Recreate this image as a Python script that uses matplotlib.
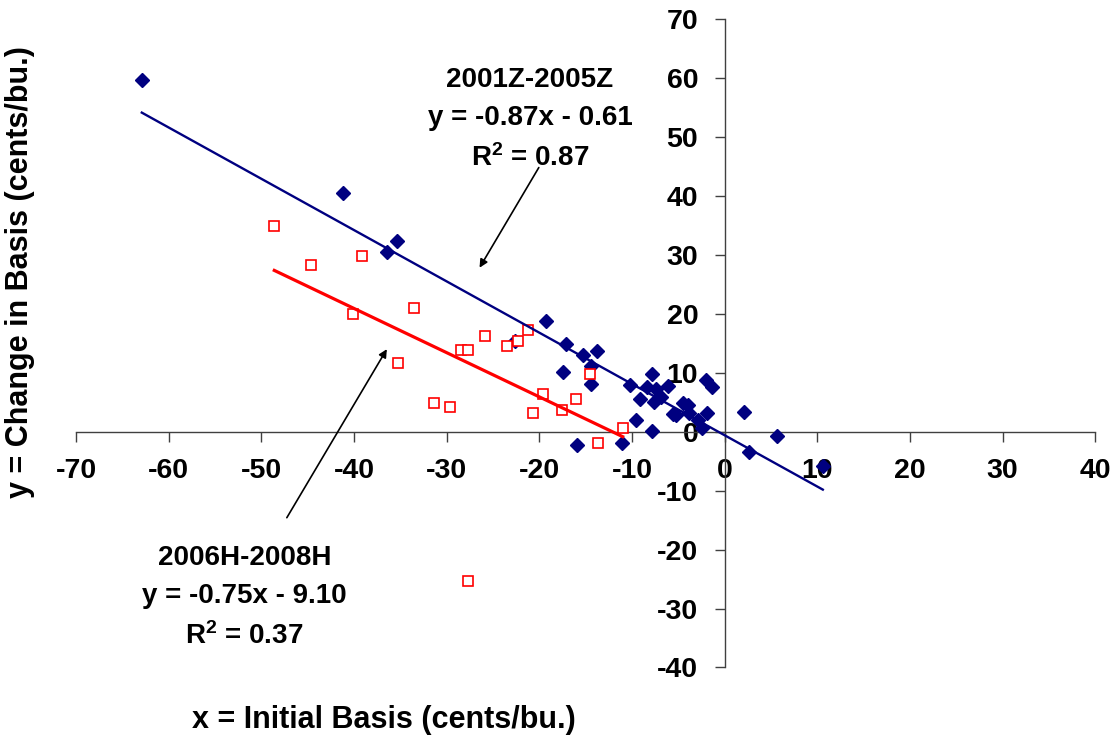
import matplotlib
matplotlib.use("Agg")
import matplotlib.pyplot as plt
import numpy as np

# ============================================================
# DATA
# ============================================================

x_0105 = [-62.9, -41.2, -35.4, -36.4, -22.6, -19.3, -17.1, -17.4, -15.3, -13.8,
          -14.4, -14.4, -15.9, -11.1, -10.2, -9.6, -9.1, -7.8, -8.4, -7.4,
          -7.6, -6.9, -7.8, -6.1, -5.6, -5.2, -4.5, -3.9, -3.8, -2.9,
          -2.4, -2.0, -1.4, -1.9, 2.1, 5.7, 2.6, 10.6]
y_0105 = [59.7, 40.4, 32.4, 30.5, 15.4, 18.7, 14.8, 10.1, 13.0, 13.7,
          11.1, 8.1, -2.3, -2.0, 7.9, 2.0, 5.5, 9.8, 7.5, 7.2,
          5.1, 5.9, 0.1, 7.8, 3.0, 2.8, 4.8, 4.5, 3.2, 2.0,
          0.6, 8.7, 7.5, 3.1, 3.3, -0.8, -3.4, -5.8]

x_0608 = [-48.6, -44.6, -39.1, -40.1, -33.5, -35.2, -31.4, -29.6, -28.4, -27.7,
          -27.7, -25.9, -23.5, -22.3, -21.2, -20.7, -19.6, -17.5, -16.0, -14.5,
          -13.7, -11.0]
y_0608 = [34.9, 28.3, 29.8, 19.9, 20.9, 11.7, 4.9, 4.2, 13.9, 13.9,
          -25.4, 16.2, 14.5, 15.4, 17.3, 3.1, 6.4, 3.6, 5.5, 9.8,
          -1.9, 0.6]

# fitted trend lines as printed on the chart
fit_0105 = (-0.87, -0.61)
fit_0608 = (-0.75, -9.10)

x_ticks = [-70, -60, -50, -40, -30, -20, -10, 0, 10, 20, 30, 40]
y_ticks = [-40, -30, -20, -10, 0, 10, 20, 30, 40, 50, 60, 70]

# ============================================================
# PLOT
# ============================================================

plt.rcParams["font.family"] = ["Liberation Sans", "DejaVu Sans"]
plt.rcParams["font.weight"] = "bold"
plt.rcParams["axes.unicode_minus"] = False
plt.rcParams["mathtext.fontset"] = "custom"
plt.rcParams["mathtext.rm"] = "Liberation Sans:bold"
plt.rcParams["mathtext.it"] = "Liberation Sans:bold"
plt.rcParams["mathtext.bf"] = "Liberation Sans:bold"

fig = plt.figure(figsize=(11.16, 7.4), dpi=100)
ax = fig.add_axes([0.0681, 0.098, 0.9133, 0.8764])

navy = "#000080"
red = "#ff0000"

ax.plot(x_0105, y_0105, linestyle="none", marker="D", markersize=7,
        color=navy, zorder=3)
ax.plot(x_0608, y_0608, linestyle="none", marker="s", markersize=7.5,
        markerfacecolor="white", markeredgecolor=red, markeredgewidth=1.2, zorder=4)

xs = np.array([min(x_0105), max(x_0105)])
ax.plot(xs, fit_0105[0] * xs + fit_0105[1], color=navy, linewidth=1.7, zorder=5)
xs = np.array([min(x_0608), max(x_0608)])
ax.plot(xs, fit_0608[0] * xs + fit_0608[1], color=red, linewidth=2.3, zorder=5)

ax.set_xlim(-70, 40)
ax.set_ylim(-40, 70)

# axes crossing at the origin
for side in ["top", "right"]:
    ax.spines[side].set_visible(False)
ax.spines["left"].set_position(("data", 0))
ax.spines["bottom"].set_position(("data", 0))
for side in ["left", "bottom"]:
    ax.spines[side].set_color("#404040")
    ax.spines[side].set_linewidth(1.0)

ax.set_xticks(x_ticks)
ax.set_yticks(y_ticks)
ax.tick_params(direction="out", length=7, width=1, color="#404040",
               labelsize=20.5, pad=12)
for lbl in ax.get_xticklabels() + ax.get_yticklabels():
    lbl.set_fontweight("bold")

# annotations
ax.text(-21.0, 53.0, "2001Z-2005Z\ny = -0.87x - 0.61\nR$^2$ = 0.87",
        ha="center", va="center", fontsize=20, fontweight="bold", linespacing=1.6)
ax.annotate("", xy=(-26.6, 27.4), xytext=(-19.9, 45.2),
            arrowprops=dict(arrowstyle="-|>", color="black", lw=1.2, mutation_scale=12))

ax.text(-51.8, -28.1, "2006H-2008H\ny = -0.75x - 9.10\nR$^2$ = 0.37",
        ha="center", va="center", fontsize=20, fontweight="bold", linespacing=1.6)
ax.annotate("", xy=(-36.3, 14.4), xytext=(-47.4, -15.0),
            arrowprops=dict(arrowstyle="-|>", color="black", lw=1.2, mutation_scale=12))

fig.text(384 / 1116, 1 - 720 / 740, "x = Initial Basis (cents/bu.)",
         ha="center", va="center", fontsize=22, fontweight="bold")
fig.text(20 / 1116, 1 - 272 / 740, "y = Change in Basis (cents/bu.)",
         ha="center", va="center", rotation=90, fontsize=22, fontweight="bold")

fig.savefig("out.png", dpi=100)
